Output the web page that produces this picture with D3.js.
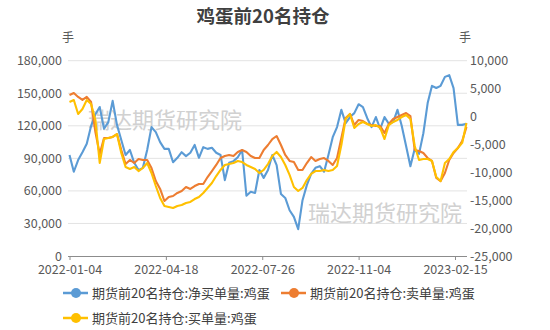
<!DOCTYPE html>
<html>
<head>
<meta charset="utf-8">
<script src="https://cdn.jsdelivr.net/npm/d3@7/dist/d3.min.js"></script>
<style>
  html, body { margin: 0; padding: 0; background: #fff; }
  svg { display: block; font-family: "Noto Sans CJK SC", "Noto Sans", sans-serif; }
</style>
</head>
<body>
<svg id="chart" width="550" height="330"></svg>
<script>
// Trading-day numbers (from 2022-01-04) for the labelled dates
const tickDays = [0, 67, 134, 201, 268];
const tickLabels = ["2022-01-04", "2022-04-18", "2022-07-26", "2022-11-04", "2023-02-15"];

// Observations every third trading day, day 0 .. day 276
const sampleDays = d3.range(0, 277, 3);

// 期货前20名持仓:净买单量:鸡蛋 (right axis)
const netBuy = [-6900,-9900,-7800,-6400,-4900,-1700,400,1700,-2200,-1000,
  2800,-1500,-4200,-6900,-6000,-8300,-9600,-9200,-6000,-1900,
  -2800,-4600,-5800,-5800,-8200,-7400,-6400,-7100,-6500,-5100,
  -7400,-5500,-5800,-5600,-6500,-6900,-11400,-8300,-8000,-7300,
  -6000,-14200,-13500,-13700,-9600,-11000,-9600,-6900,-8700,-13900,
  -14600,-16800,-18000,-20200,-15000,-12300,-10300,-9200,-8900,-9900,
  -6900,-3700,-1900,1200,-1200,-100,600,2200,1700,-300,
  -1900,-100,-2200,-100,-1300,-1000,1200,-1700,-5300,-8900,
  -5800,-6700,-3000,2400,5500,5100,5500,7100,7400,5100,
  -1500,-1500,-1300];

// 期货前20名持仓:卖单量:鸡蛋 (left axis)
const sellVol = [148400,150200,146600,143800,146600,141900,114300,94000,108800,108800,
  109700,112400,97700,84800,88500,85700,89400,88500,88500,81100,
  69100,61800,50700,54400,55300,58100,59900,63600,61800,64500,
  66400,66400,72800,78300,83900,90300,92200,93100,92200,95900,
  97700,95900,92200,90300,90300,97700,102300,107800,110600,102300,
  93100,87600,86600,79300,79300,85700,91200,87600,89400,90300,
  87600,83900,90300,108800,127200,130900,120700,125400,124400,121700,
  120700,119800,119800,113400,121700,126300,128100,130000,131800,129000,
  97700,96800,94900,90300,87600,71900,69100,76500,88500,94900,
  99500,106000,118900];

// 期货前20名持仓:买单量:鸡蛋 (left axis)
const buyVol = [141900,143800,130900,135500,143800,140100,125400,85700,107800,108800,
  109700,112400,94900,82000,80200,82000,78300,81100,85700,76500,
  64500,53500,46100,45200,44200,46100,47000,48900,49800,52500,
  54400,58100,62700,67300,73700,79300,83900,84800,85700,87600,
  86600,83900,82000,80200,76500,79300,84800,92200,95900,91200,
  83900,74700,63600,59900,62700,70000,75600,78300,78300,79300,
  78300,79300,83000,102300,126300,130900,118000,121700,123500,121700,
  119800,120700,118000,107800,120700,123500,125400,128100,130000,126300,
  101400,88500,89400,89400,87600,72800,69100,85700,89400,95900,
  99500,104200,122600];

const leftTicks = [0, 30000, 60000, 90000, 120000, 150000, 180000];
const rightTicks = [-25000, -20000, -15000, -10000, -5000, 0, 5000, 10000];

const seriesNames = ["期货前20名持仓:净买单量:鸡蛋", "期货前20名持仓:卖单量:鸡蛋", "期货前20名持仓:买单量:鸡蛋"];
const colors = ["#5b9bd5", "#ed7d31", "#ffc000"];

const svg = d3.select("#chart");
const plotTop = 60.7, plotBottom = 256, plotLeft = 68, plotRight = 467;

const x = d3.scaleLinear().domain([0, 276]).range([69.5, 466.5]);
const yL = d3.scaleLinear().domain([0, 180000]).range([plotBottom, plotTop]);
const yR = d3.scaleLinear().domain([-25000, 10000]).range([plotBottom, plotTop]);

const fmt = d3.formatLocale({decimal: ".", thousands: ",", grouping: [3], currency: ["", ""], minus: "-"}).format(",");

// title
svg.append("text").attr("x", 263).attr("y", 23).attr("text-anchor", "middle")
  .attr("font-size", 18.5).attr("font-weight", "bold").attr("fill", "#404040")
  .text("鸡蛋前20名持仓");

// unit labels
svg.append("text").attr("x", 68).attr("y", 42).attr("text-anchor", "middle")
  .attr("font-size", 12).attr("fill", "#595959").text("手");
svg.append("text").attr("x", 465).attr("y", 42).attr("text-anchor", "middle")
  .attr("font-size", 12).attr("fill", "#595959").text("手");

// horizontal gridlines from the left axis
svg.append("g").selectAll("line").data(leftTicks.filter(d => d > 0)).join("line")
  .attr("x1", plotLeft).attr("x2", plotRight)
  .attr("y1", d => yL(d)).attr("y2", d => yL(d))
  .attr("stroke", "#e3e3e3").attr("stroke-width", 1);

// watermarks
const wm = svg.append("g").attr("font-size", 22).attr("fill", "#c9c9c9").attr("opacity", 0.85);
wm.append("text").attr("x", 88).attr("y", 128).text("瑞达期货研究院");
wm.append("text").attr("x", 308).attr("y", 221).text("瑞达期货研究院");

// left axis
const gL = svg.append("g").attr("transform", `translate(${plotLeft},0)`)
  .call(d3.axisLeft(yL).tickValues(leftTicks).tickFormat(fmt).tickSize(0).tickPadding(6));
gL.select(".domain").remove();
gL.selectAll("text").attr("font-size", 12.5).attr("fill", "#595959")
  .attr("font-family", "'Noto Sans CJK SC', sans-serif");

// right axis
const gR = svg.append("g").attr("transform", `translate(${plotRight},0)`)
  .call(d3.axisRight(yR).tickValues(rightTicks).tickFormat(fmt).tickSize(0).tickPadding(3));
gR.select(".domain").remove();
gR.selectAll("text").attr("font-size", 12.5).attr("fill", "#595959")
  .attr("font-family", "'Noto Sans CJK SC', sans-serif");

// bottom axis
const gB = svg.append("g").attr("transform", `translate(0,${plotBottom})`)
  .call(d3.axisBottom(x).tickValues(tickDays).tickFormat((d, i) => tickLabels[i]).tickSize(4).tickSizeOuter(0).tickPadding(5));
gB.select(".domain").attr("d", `M${plotLeft},0.5H${plotRight}`).attr("stroke", "#8c8c8c");
gB.selectAll(".tick line").attr("stroke", "#8c8c8c");
gB.selectAll("text").attr("font-size", 12.5).attr("fill", "#595959")
  .attr("font-family", "'Noto Sans CJK SC', sans-serif");

// lines
const lineFor = (scale) => d3.line().x((d, i) => x(sampleDays[i])).y(d => scale(d));
const series = [
  {values: netBuy, scale: yR},
  {values: sellVol, scale: yL},
  {values: buyVol, scale: yL}
];
series.forEach((s, i) => {
  svg.append("path").datum(s.values)
    .attr("d", lineFor(s.scale))
    .attr("fill", "none").attr("stroke", colors[i])
    .attr("stroke-width", 2.1).attr("stroke-linejoin", "round");
});

// legend
const legendItems = [
  {x: 63, y: 293},
  {x: 281, y: 293},
  {x: 63, y: 318}
];
const lg = svg.append("g");
legendItems.forEach((p, i) => {
  const g = lg.append("g").attr("transform", `translate(${p.x},${p.y})`);
  g.append("line").attr("x1", 0).attr("x2", 25).attr("y1", 0).attr("y2", 0)
    .attr("stroke", colors[i]).attr("stroke-width", 2.5);
  g.append("circle").attr("cx", 13).attr("cy", 0).attr("r", 5).attr("fill", colors[i]);
  g.append("text").attr("x", 29).attr("y", 4.7).attr("font-size", 13).attr("fill", "#404040")
    .text(seriesNames[i]);
});
</script>
</body>
</html>
